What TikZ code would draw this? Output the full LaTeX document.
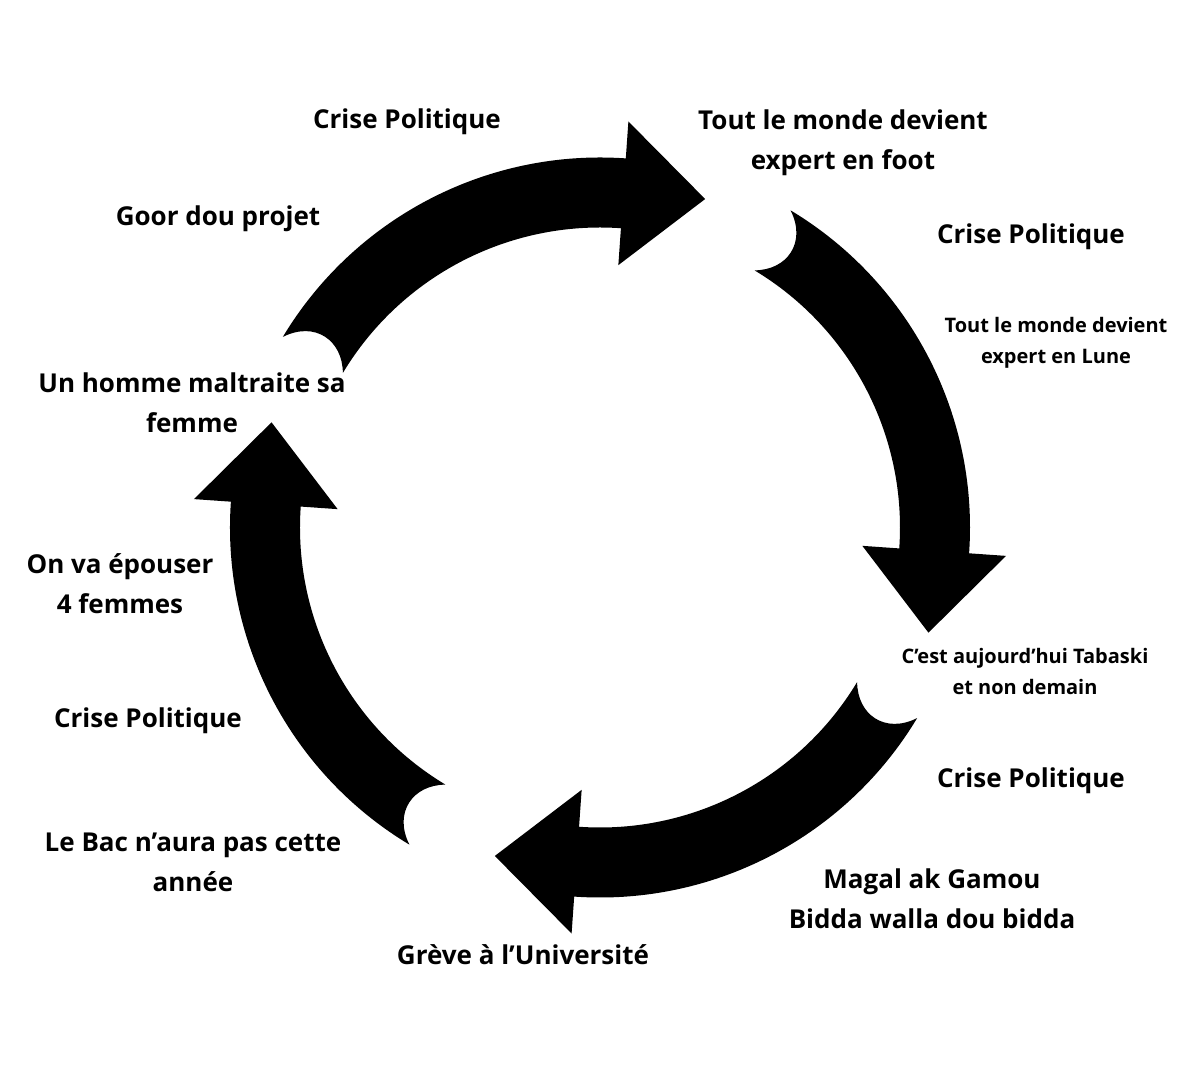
\documentclass[tikz,border=0pt]{standalone}
\usepackage{fontspec}
\setmainfont{Open Sans}
\usetikzlibrary{calc}
\begin{document}
\begin{tikzpicture}[x=1pt,y=1pt,
  lbl/.style={font=\fontsize{26}{40}\selectfont\bfseries,align=center,inner sep=0pt},
  sml/.style={font=\fontsize{20}{31}\selectfont\bfseries,align=center,inner sep=0pt}]
\useasboundingbox (-600,-563.5) rectangle (600,527.5);
\foreach \t/\b in {239/176,149/86,59/-4,-31/-94}{
  \pgfmathsetmacro{\c}{\t-5}
  \pgfmathsetmacro{\d}{\b-90}
  \fill[black] (\t:370) arc[start angle=\t,end angle=\b,radius=370]
    -- (\b:407) -- ($(\b:335)+(\d:82)$) -- (\b:263) -- (\b:300)
    arc[start angle=\b,end angle=\t,radius=300]
    .. controls (\c:318) and (\c:352) .. (\t:370) -- cycle;
}
\node[lbl] (a) at (-193,405.5) {Crise Politique};
\node[lbl] (b) at (243,385) {Tout le monde devient\\expert en foot};
\node[lbl] (c) at (-382,308.5) {Goor dou projet};
\node[lbl] (d) at (431,290.5) {Crise Politique};
\node[sml] (e) at (456,185) {Tout le monde devient\\expert en Lune};
\node[lbl] (f) at (-408,125) {Un homme maltraite sa\\femme};
\node[lbl] (g) at (-480,-56) {On va épouser\\4 femmes};
\node[lbl] (h) at (-452,-193.5) {Crise Politique};
\node[lbl] (i) at (-407,-335) {Le Bac n’aura pas cette\\année};
\node[lbl] (j) at (-77,-427.5) {Grève à l’Université};
\node[sml] (k) at (425,-144) {C’est aujourd’hui Tabaski\\et non demain};
\node[lbl] (l) at (431,-253.5) {Crise Politique};
\node[lbl] (m) at (332,-371) {Magal ak Gamou\\Bidda walla dou bidda};
\end{tikzpicture}
\end{document}
